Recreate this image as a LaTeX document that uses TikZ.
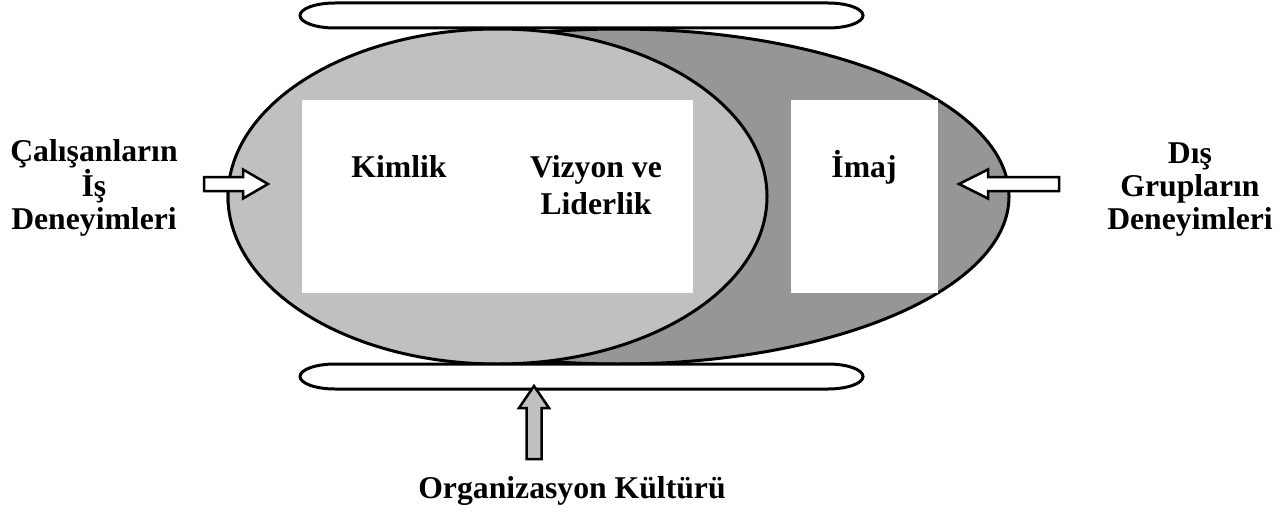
\documentclass[tikz,border=0pt]{standalone}
\usepackage{fontspec}
\setmainfont{Liberation Serif}
\usetikzlibrary{shapes.geometric}
\definecolor{shadelight}{HTML}{C0C0C0}
\definecolor{shadedark}{HTML}{969696}
\begin{document}
\begin{tikzpicture}[x=1pt,y=-1pt,
  outline/.style={draw=black, line width=3pt},
  region/.style={ellipse, outline, inner sep=0pt, minimum height=335pt},
  panel/.style={fill=white, draw=none},
  label/.style={font=\fontsize{31.7}{33}\selectfont\bfseries, inner sep=0pt, align=center},
  blockarrow/.style={draw=black, line width=2.5pt, line join=miter, miter limit=10},
]
\useasboundingbox (0,0) rectangle (1281,511);

% the two overlapping regions
\node[region, fill=shadedark, minimum width=781pt] (outer) at (618.5,196.5) {};
\node[region, fill=shadelight, minimum width=539pt] (inner) at (497.5,196.5) {};

% white panels
\fill[panel] (302,100) rectangle (693,293);
\fill[panel] (791,100) rectangle (938,293);

% flat bars above and below
\draw[outline, fill=white] (335,3) -- (828,3)
  arc[start angle=90, end angle=-90, x radius=35pt, y radius=12.5pt]
  -- (335,28)
  arc[start angle=-90, end angle=-270, x radius=35pt, y radius=12.5pt] -- cycle;
\draw[outline, fill=white] (335,364) -- (828,364)
  arc[start angle=90, end angle=-90, x radius=35pt, y radius=12.5pt]
  -- (335,389)
  arc[start angle=-90, end angle=-270, x radius=35pt, y radius=12.5pt] -- cycle;

% texts (multi-line nodes sit on the baseline of their last line)
\node[label, anchor=base] (kimlik) at (399,177) {Kimlik};
\node[label, anchor=base, font=\fontsize{31.7}{37}\selectfont\bfseries] (vizyon) at (596,214) {Vizyon ve\\Liderlik};
\node[label, anchor=base] (imaj) at (864,177) {İmaj};
\node[label, anchor=base] (calisan) at (94,229) {Çalışanların\\İş\\Deneyimleri};
\node[label, anchor=base] (dis) at (1190,229) {Dış\\Grupların\\Deneyimleri};
\node[label, anchor=base] (kultur) at (572,498) {Organizasyon Kültürü};

% block arrows
\draw[blockarrow, fill=white, shift={(204,184)}]
  (0,-7) -- (39,-7) -- (39,-14.5) -- (64,0) -- (39,14.5) -- (39,7) -- (0,7) -- cycle;
\draw[blockarrow, fill=white, shift={(959,184)}]
  (0,0) -- (29,-14.5) -- (29,-7) -- (100,-7) -- (100,7) -- (29,7) -- (29,14.5) -- cycle;
\draw[blockarrow, fill=shadelight, shift={(534,386)}]
  (0,0) -- (15,22) -- (7.5,22) -- (7.5,73) -- (-7.5,73) -- (-7.5,22) -- (-15,22) -- cycle;
\end{tikzpicture}
\end{document}
